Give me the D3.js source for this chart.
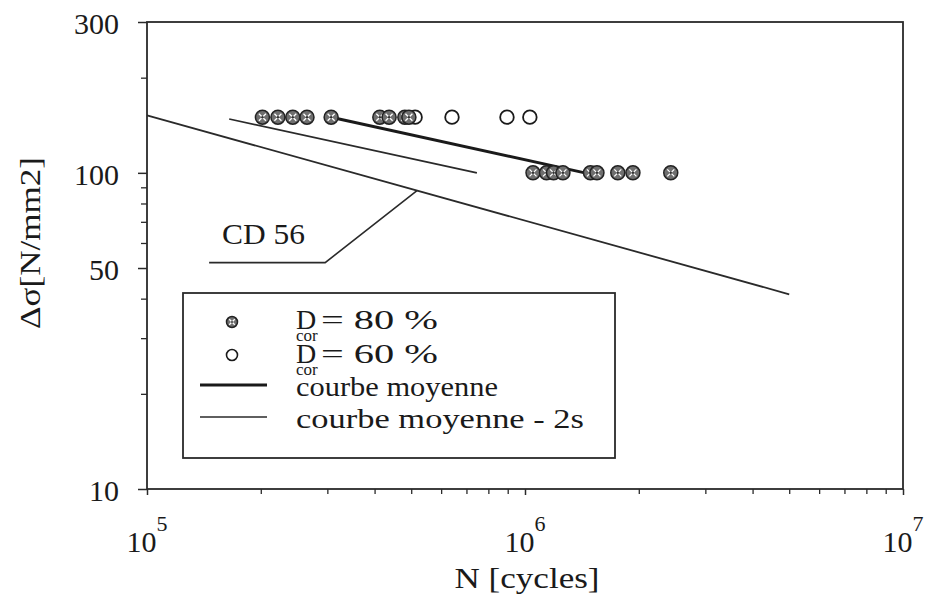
<!DOCTYPE html>
<html>
<head>
<meta charset="utf-8">
<script src="https://cdn.jsdelivr.net/npm/d3@7"></script>
<style>
  body { margin: 0; background: #fff; }
  text { font-family: "Liberation Serif", Tinos, "Times New Roman", Times, serif; fill: #1a1a1a; }
</style>
</head>
<body>
<div id="chart"></div>
<script>
// D_cor = 80 % specimens (N cycles, stress range)
const d80N = [2.02e5, 2.22e5, 2.43e5, 2.65e5, 3.07e5, 4.13e5, 4.37e5, 4.81e5, 4.93e5,
              1.05e6, 1.14e6, 1.19e6, 1.26e6, 1.49e6, 1.55e6, 1.76e6, 1.93e6, 2.43e6];
const d80S = [150, 150, 150, 150, 150, 150, 150, 150, 150,
              100, 100, 100, 100, 100, 100, 100, 100, 100];
// D_cor = 60 %
const d60N = [5.12e5, 6.41e5, 8.96e5, 1.03e6];
const d60S = [150, 150, 150, 150];
// curves
const meanN = [3.07e5, 1.44e6], meanS = [150, 100];
const minus2sN = [1.65e5, 7.46e5], minus2sS = [148, 100];
const cdN = [1e5, 5e6], cdS = [152, 41.3];
// CD 56 label leader
const leaderN = [1.46e5, 2.96e5, 5.18e5];
const leaderS = [52, 52, 87.8];

const yTickLabels = [300, 100, 50, 10];
const yMinor = [200, 90, 80, 70, 60, 40, 30, 20];
const xDecades = [5, 6, 7];
const xMinor = [2e5, 3e5, 4e5, 5e5, 6e5, 7e5, 8e5, 9e5, 2e6, 3e6, 4e6, 5e6, 6e6, 7e6, 8e6, 9e6];

const legendLabels = ["= 80 %", "= 60 %", "courbe moyenne", "courbe moyenne - 2s"];

const W = 925, H = 594;
const margin = {top: 22, right: 22, bottom: 105, left: 147},
    width = W - margin.left - margin.right,
    height = H - margin.top - margin.bottom;

const x = d3.scaleLog().domain([1e5, 1e7]).range([0, width]);
const y = d3.scaleLog().domain([10, 300]).range([height, 0]);

const svg = d3.select("#chart").append("svg")
    .attr("width", W).attr("height", H)
  .append("g")
    .attr("transform", "translate(" + margin.left + "," + margin.top + ")");

const ink = "#2a2a2a";

// y axis ticks
svg.append("g")
    .call(d3.axisLeft(y).tickValues(yTickLabels).tickSize(9).tickFormat(""))
    .call(g => g.select(".domain").remove())
    .call(g => g.selectAll("line").attr("stroke", ink).attr("stroke-width", 1.5));
svg.append("g")
    .call(d3.axisLeft(y).tickValues(yMinor).tickSize(6).tickFormat(""))
    .call(g => g.select(".domain").remove())
    .call(g => g.selectAll("line").attr("stroke", ink).attr("stroke-width", 1.3));

svg.selectAll(".ylab").data(yTickLabels).join("text")
    .attr("class", "ylab")
    .attr("x", -28).attr("y", d => y(d) + 12)
    .attr("text-anchor", "end")
    .attr("font-size", 30)
    .text(d => d);

// x axis ticks
svg.append("g")
    .attr("transform", "translate(0," + height + ")")
    .call(d3.axisBottom(x).tickValues(xDecades.map(e => Math.pow(10, e))).tickSize(6).tickFormat(""))
    .call(g => g.select(".domain").remove())
    .call(g => g.selectAll("line").attr("stroke", ink).attr("stroke-width", 1.5));
svg.append("g")
    .attr("transform", "translate(0," + height + ")")
    .call(d3.axisBottom(x).tickValues(xMinor).tickSize(5).tickFormat(""))
    .call(g => g.select(".domain").remove())
    .call(g => g.selectAll("line").attr("stroke", ink).attr("stroke-width", 1.3));

const xl = svg.selectAll(".xlab").data(xDecades).join("text")
    .attr("class", "xlab")
    .attr("x", d => x(Math.pow(10, d)))
    .attr("y", height + 63)
    .attr("text-anchor", "middle")
    .attr("font-size", 30);
xl.append("tspan").text("10");
xl.append("tspan").attr("dy", -21).attr("font-size", 22).text(d => d);

// frame
svg.append("rect")
    .attr("width", width).attr("height", height)
    .attr("fill", "none").attr("stroke", ink).attr("stroke-width", 1.8);

// axis titles
svg.append("text")
    .attr("x", x(1e6) + 2).attr("y", height + 99)
    .attr("text-anchor", "middle")
    .attr("font-size", 29)
    .attr("textLength", 145).attr("lengthAdjust", "spacingAndGlyphs")
    .text("N [cycles]");

svg.append("text")
    .attr("transform", "translate(" + (-107) + "," + y(60) + ") rotate(-90)")
    .attr("text-anchor", "middle")
    .attr("font-size", 29)
    .attr("textLength", 172).attr("lengthAdjust", "spacingAndGlyphs")
    .text("Δσ[N/mm2]");

const line = d3.line().x(d => x(d[0])).y(d => y(d[1]));
const zip = (a, b) => a.map((v, i) => [v, b[i]]);

// CD 56 and leader
svg.append("path").attr("d", line(zip(cdN, cdS)))
    .attr("fill", "none").attr("stroke", ink).attr("stroke-width", 1.8);
svg.append("path").attr("d", line(zip(leaderN, leaderS)))
    .attr("fill", "none").attr("stroke", ink).attr("stroke-width", 1.6);
svg.append("text")
    .attr("x", x(1.58e5)).attr("y", y(59.6))
    .attr("font-size", 29)
    .attr("textLength", 83).attr("lengthAdjust", "spacingAndGlyphs")
    .text("CD 56");

// curves
svg.append("path").attr("d", line(zip(minus2sN, minus2sS)))
    .attr("fill", "none").attr("stroke", ink).attr("stroke-width", 1.7);
svg.append("path").attr("d", line(zip(meanN, meanS)))
    .attr("fill", "none").attr("stroke", "#1a1a1a").attr("stroke-width", 3);

function hatched(sel, r) {
  sel.append("circle").attr("r", r)
      .attr("fill", "#6f6f6f").attr("stroke", "#222").attr("stroke-width", 1.5);
  const k = r * 0.5;
  sel.append("path")
      .attr("d", "M" + (-k) + "," + (-k) + "L" + k + "," + k + "M" + (-k) + "," + k + "L" + k + "," + (-k))
      .attr("stroke", "#fff").attr("stroke-width", 1.3);
  sel.append("circle").attr("r", r * 0.18).attr("fill", "#333");
}

// open points
svg.selectAll(".p60").data(zip(d60N, d60S)).join("circle")
    .attr("class", "p60")
    .attr("cx", d => x(d[0])).attr("cy", d => y(d[1]))
    .attr("r", 6.8)
    .attr("fill", "#fff").attr("stroke", "#1a1a1a").attr("stroke-width", 1.8);

// hatched points
svg.selectAll(".p80").data(zip(d80N, d80S)).join("g")
    .attr("class", "p80")
    .attr("transform", d => "translate(" + x(d[0]) + "," + y(d[1]) + ")")
    .each(function() { hatched(d3.select(this), 7); });

// legend
const lg = svg.append("g").attr("transform", "translate(" + (183 - margin.left) + "," + (293 - margin.top) + ")");
lg.append("rect").attr("width", 432).attr("height", 165)
    .attr("fill", "#fff").attr("stroke", ink).attr("stroke-width", 1.8);

const rowY = [36, 70, 103, 135];
const sym = lg.append("g").attr("transform", "translate(49," + (rowY[0] - 7) + ")");
hatched(sym, 5.5);
lg.append("circle").attr("cx", 49).attr("cy", rowY[1] - 8).attr("r", 5.5)
    .attr("fill", "#fff").attr("stroke", "#1a1a1a").attr("stroke-width", 1.6);
lg.append("line").attr("x1", 17).attr("x2", 84).attr("y1", rowY[2] - 11).attr("y2", rowY[2] - 11)
    .attr("stroke", "#1a1a1a").attr("stroke-width", 3);
lg.append("line").attr("x1", 17).attr("x2", 84).attr("y1", rowY[3] - 11).attr("y2", rowY[3] - 11)
    .attr("stroke", ink).attr("stroke-width", 1.6);

const textW = [117, 117, 202, 288];
legendLabels.forEach((t, i) => {
  if (i < 2) {
    lg.append("text").attr("x", 113).attr("y", rowY[i]).attr("font-size", 28).text("D");
    lg.append("text").attr("x", 113).attr("y", rowY[i] + 12).attr("font-size", 17).text("cor");
    lg.append("text").attr("x", 138).attr("y", rowY[i]).attr("font-size", 28)
        .attr("textLength", textW[i]).attr("lengthAdjust", "spacingAndGlyphs").text(t);
  } else {
    lg.append("text").attr("x", 113).attr("y", rowY[i]).attr("font-size", 28)
        .attr("textLength", textW[i]).attr("lengthAdjust", "spacingAndGlyphs").text(t);
  }
});
</script>
</body>
</html>
